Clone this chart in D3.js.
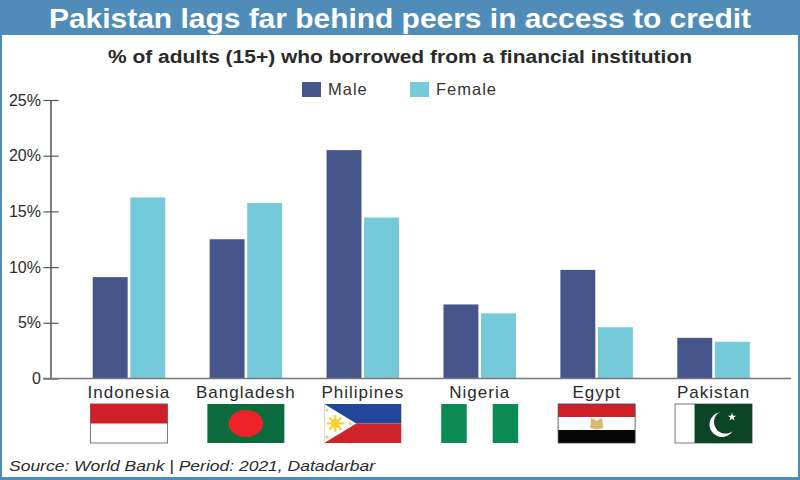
<!DOCTYPE html>
<html><head><meta charset="utf-8">
<script src="https://cdnjs.cloudflare.com/ajax/libs/d3/7.8.5/d3.min.js"></script>
<style>html,body{margin:0;padding:0;background:#fff}svg{display:block}text{font-family:"Liberation Sans",Arial,sans-serif}</style>
</head><body><svg id="c" width="800" height="480"></svg>
<script>
const titleText = "Pakistan lags far behind peers in access to credit";
const subtitleText = "% of adults (15+) who borrowed from a financial institution";
const sourceText = "Source: World Bank | Period: 2021, Datadarbar";
const categories = ["Indonesia","Bangladesh","Philipines","Nigeria","Egypt","Pakistan"];
const seriesNames = ["Male","Female"];
const maleValues = [9.1,12.5,20.5,6.65,9.75,3.65];
const femaleValues = [16.25,15.75,14.45,5.85,4.6,3.3];
const yTicks = [0,5,10,15,20,25];
const colors = {Male:"#47568a",Female:"#75cad9"};
const blue = "#4f8db8", ink = "#2a2a2a", axisCol = "#555";

const svg = d3.select("#c");
svg.append("rect").attr("width",800).attr("height",480).attr("fill",blue);
svg.append("rect").attr("x",2).attr("y",35).attr("width",796).attr("height",442).attr("fill","#fff");

const stretched = (sel,x1,x2)=>sel.attr("x",x1).attr("textLength",x2-x1).attr("lengthAdjust","spacingAndGlyphs");
stretched(svg.append("text").attr("y",28).attr("font-size",27.5).attr("font-weight",700).attr("fill","#fff").text(titleText),49,751);
stretched(svg.append("text").attr("y",63).attr("font-size",18).attr("font-weight",700).attr("fill",ink).text(subtitleText),108,692);
stretched(svg.append("text").attr("y",471).attr("font-size",15).attr("font-style","italic").attr("fill",ink).text(sourceText),9,375);

const x = d3.scaleBand().domain(categories).range([70.5,772]);
const groupW = 72.5;
const xs = d3.scaleBand().domain(seriesNames).range([0,groupW]).paddingInner(0.07);
const y = d3.scaleLinear().domain([0,25]).range([378.5,100]);
const fmt = d=>d===0?"0":d+"%";

// bars
const rows = categories.map((c,i)=>({c,Male:maleValues[i],Female:femaleValues[i]}));
const g = svg.append("g").selectAll("g").data(rows).join("g")
  .attr("transform",d=>`translate(${x(d.c)+x.bandwidth()/2-groupW/2},0)`);
g.selectAll("rect").data(d=>seriesNames.map(s=>({s,v:d[s]}))).join("rect")
  .attr("x",d=>xs(d.s)).attr("width",xs.bandwidth())
  .attr("y",d=>y(d.v)).attr("height",d=>y(0)-y(d.v)).attr("fill",d=>colors[d.s]);

// y axis
const ya = svg.append("g").attr("transform","translate(50.5,0)")
  .call(d3.axisLeft(y).tickValues(yTicks).tickFormat(fmt).tickSize(0).tickPadding(9.5));
ya.select(".domain").attr("stroke",axisCol).attr("stroke-width",1.5);
ya.selectAll(".tick line").attr("x1",-7).attr("x2",8).attr("stroke",axisCol).attr("stroke-width",1.2);
ya.selectAll("text").attr("font-size",16).attr("fill",ink).style("font-family",'"Liberation Sans",Arial,sans-serif');

// x axis
const xa = svg.append("g").attr("transform",`translate(0,${y(0)})`)
  .call(d3.axisBottom(x).tickSize(0).tickPadding(7));
xa.select(".domain").attr("d","M43,0H791").attr("stroke","#777").attr("stroke-width",1.5);
xa.selectAll("text").attr("font-size",17).attr("letter-spacing",1).attr("fill",ink).style("font-family",'"Liberation Sans",Arial,sans-serif');

// legend
const legendX = {Male:302,Female:410};
const lg = svg.append("g").selectAll("g").data(seriesNames).join("g").attr("transform",d=>`translate(${legendX[d]},82)`);
lg.append("rect").attr("width",19).attr("height",15).attr("fill",d=>colors[d]);
lg.append("text").attr("x",26).attr("y",13).attr("font-size",16.5).attr("letter-spacing",1).attr("fill","#333").text(d=>d);

// flags
const FW=77, FH=39, FY=404;
const draw = {
 Indonesia(f){ f.append("rect").attr("width",FW).attr("height",FH).attr("fill","#fff").attr("stroke","#777");
   f.append("rect").attr("width",FW).attr("height",FH/2).attr("fill","#cd2029"); },
 Bangladesh(f){ f.append("rect").attr("width",FW).attr("height",FH).attr("fill","#0b6b3c");
   f.append("ellipse").attr("cx",38.5).attr("cy",19.5).attr("rx",17.3).attr("ry",13.5).attr("fill","#ee2028"); },
 Philipines(f){ f.append("rect").attr("width",FW).attr("height",FH/2).attr("fill","#21479b");
   f.append("rect").attr("y",FH/2).attr("width",FW).attr("height",FH/2).attr("fill","#cf2229");
   f.append("path").attr("d",`M0,0L32,${FH/2}L0,${FH}Z`).attr("fill","#fff");
   const cx=11, cy=FH/2;
   for(let a=0;a<8;a++){ f.append("line").attr("x1",cx).attr("y1",cy).attr("x2",cx+8.5*Math.cos(a*Math.PI/4)).attr("y2",cy+8.5*Math.sin(a*Math.PI/4)).attr("stroke","#f8d030").attr("stroke-width",2); }
   f.append("circle").attr("cx",cx).attr("cy",cy).attr("r",4.5).attr("fill","#f8d030");
   [[2.5,6],[2.5,33],[26,FH/2]].forEach(p=>f.append("circle").attr("cx",p[0]).attr("cy",p[1]).attr("r",1.5).attr("fill","#f0d060")); },
 Nigeria(f){ f.append("rect").attr("width",FW).attr("height",FH).attr("fill","#fff");
   f.append("rect").attr("width",25.5).attr("height",FH).attr("fill","#0a8a55");
   f.append("rect").attr("x",51.5).attr("width",25.5).attr("height",FH).attr("fill","#0a8a55"); },
 Egypt(f){ f.append("rect").attr("width",FW).attr("height",13).attr("fill","#cd2029");
   f.append("rect").attr("y",13).attr("width",FW).attr("height",13).attr("fill","#fff");
   f.append("rect").attr("y",26).attr("width",FW).attr("height",13).attr("fill","#050505");
   f.append("path").attr("d","M33,14L38.5,17L44,14L45,24L38.5,25.5L32,24Z").attr("fill","#d9b870");
   f.append("rect").attr("width",FW).attr("height",FH).attr("fill","none").attr("stroke","#444").attr("stroke-width",.8); },
 Pakistan(f){ f.append("rect").attr("width",FW).attr("height",FH).attr("fill","#fff").attr("stroke","#777");
   f.append("rect").attr("x",19.5).attr("width",57.5).attr("height",FH).attr("fill","#0c4427");
   f.append("circle").attr("cx",47).attr("cy",20.5).attr("r",12.5).attr("fill","#fff");
   f.append("circle").attr("cx",50.5).attr("cy",18).attr("r",11.5).attr("fill","#0c4427");
   f.append("path").attr("d",d3.symbol(d3.symbolStar,22)()).attr("transform","translate(57,13)").attr("fill","#fff"); }
};
categories.forEach(c=>{ const f=svg.append("g").attr("transform",`translate(${x(c)+x.bandwidth()/2-FW/2},${FY})`); draw[c](f); });
</script></body></html>
